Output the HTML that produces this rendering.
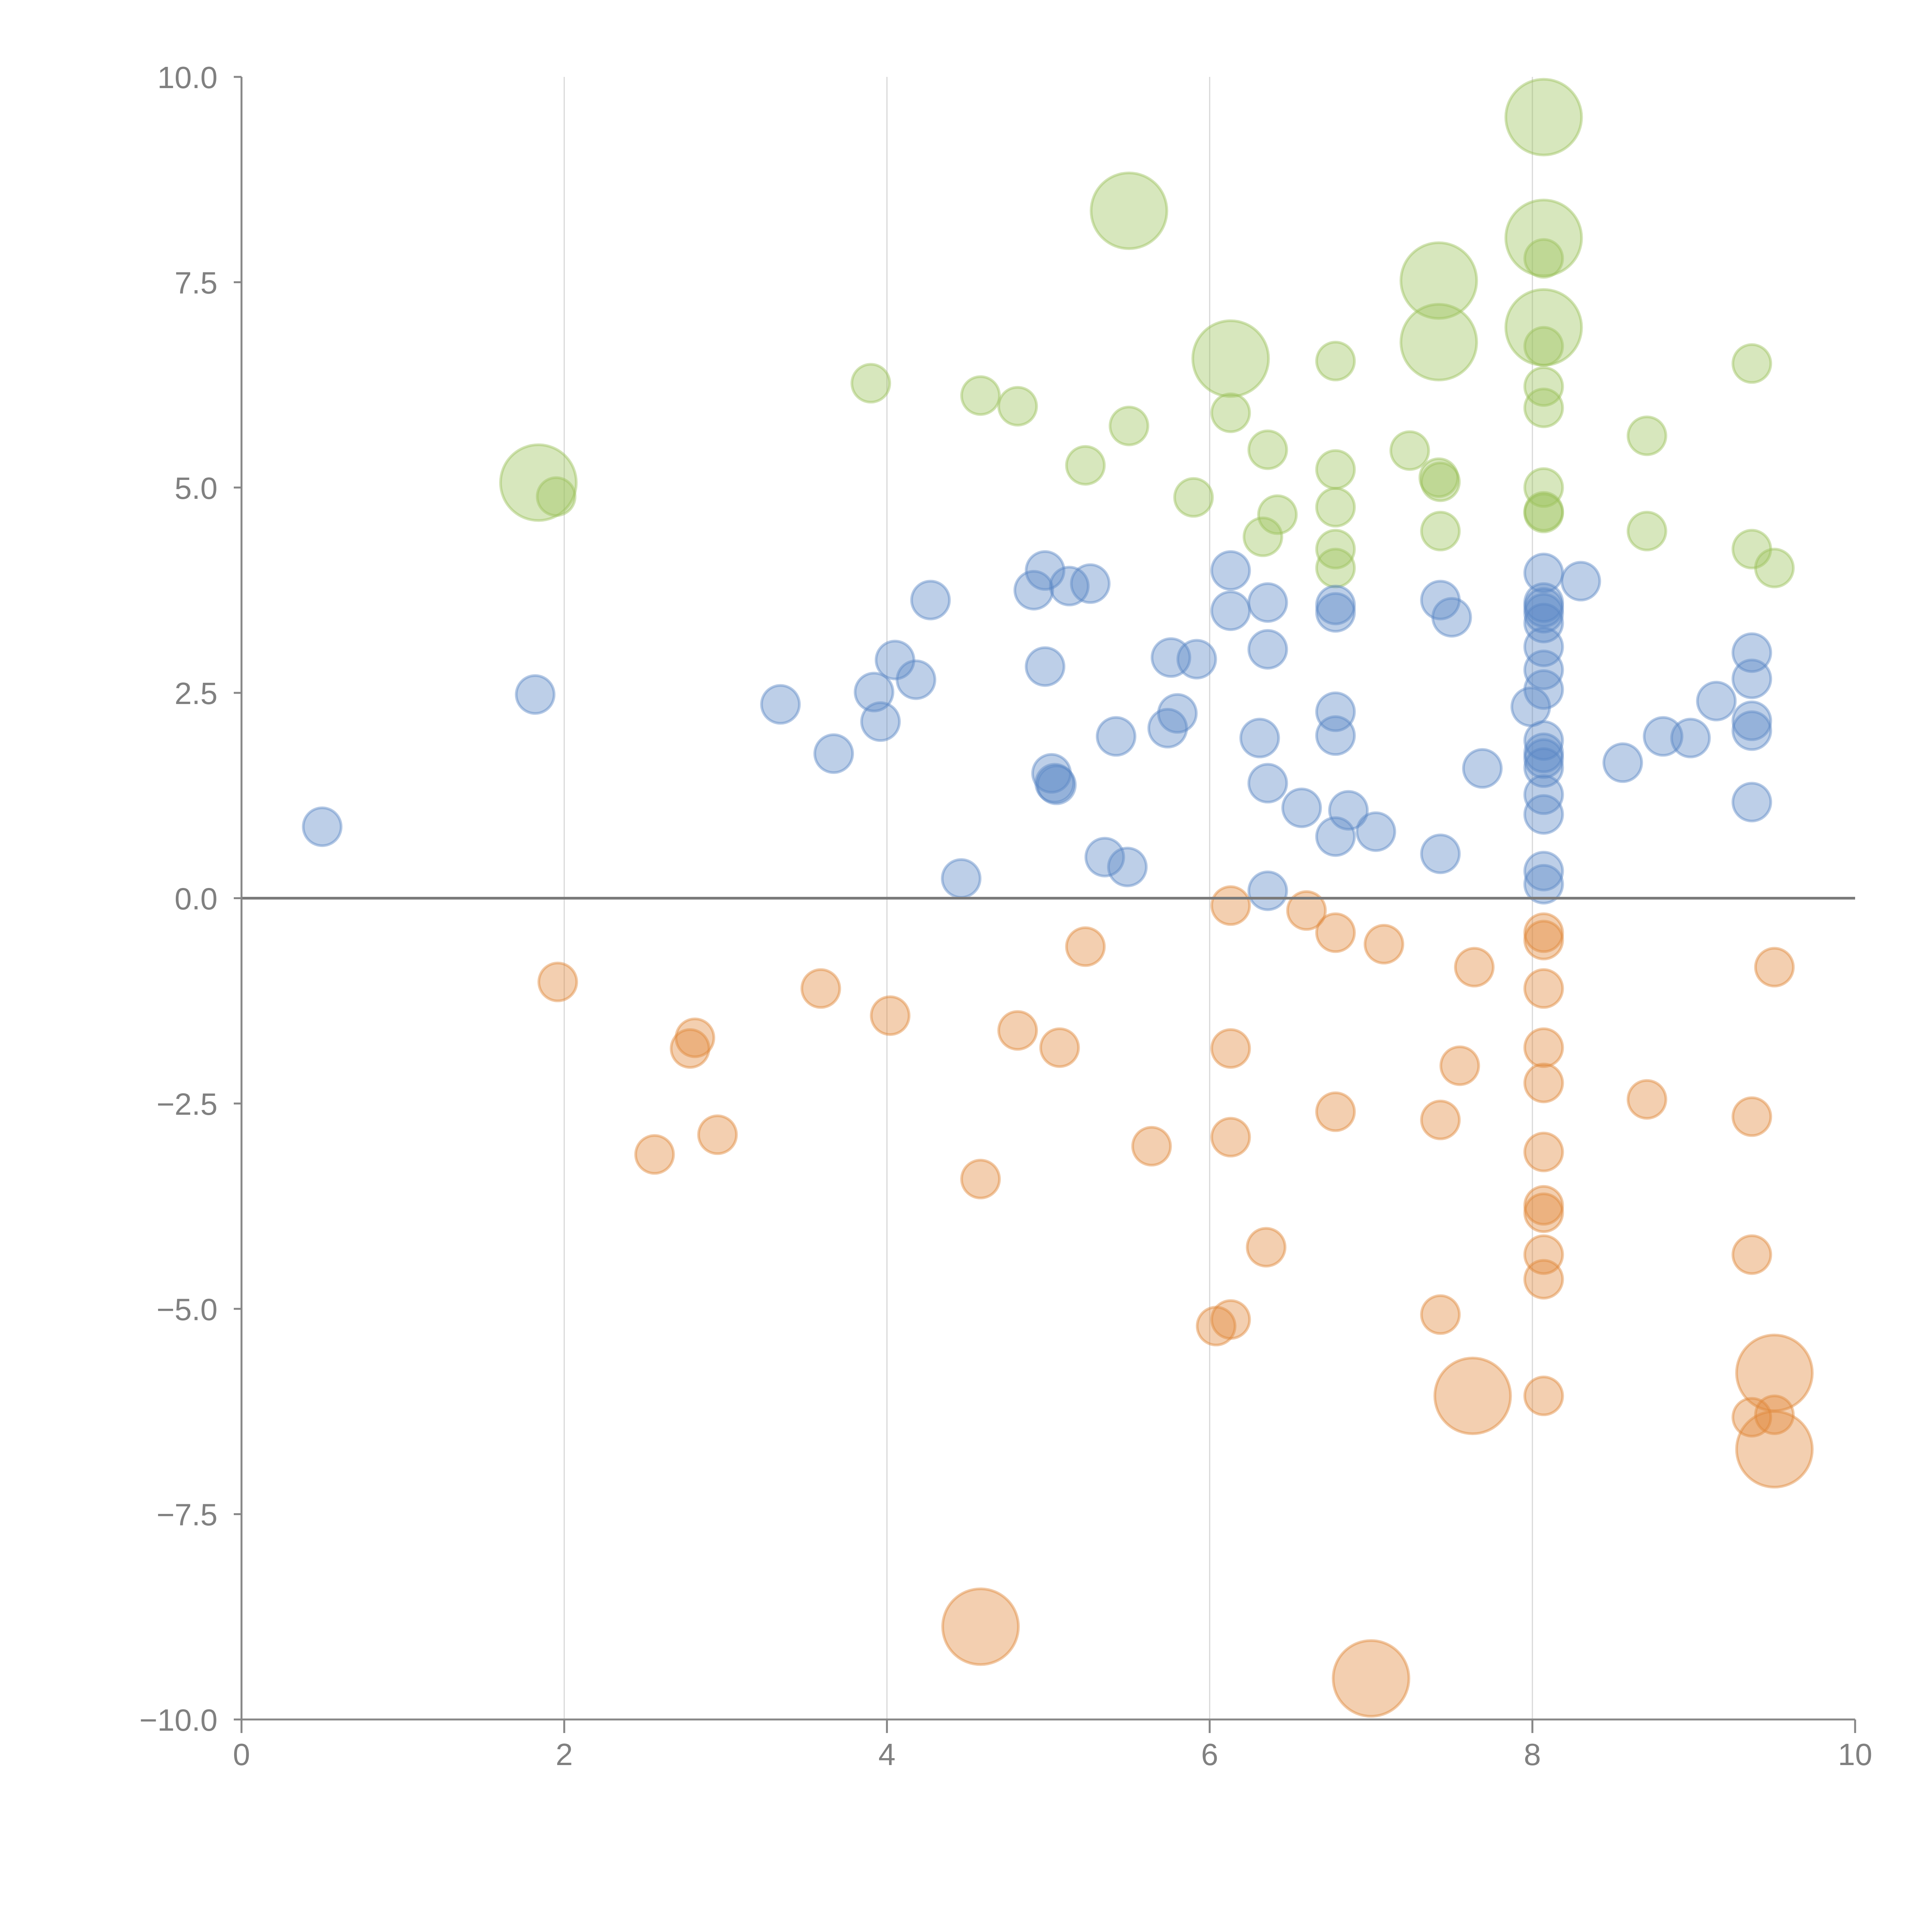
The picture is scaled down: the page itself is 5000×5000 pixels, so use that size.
<!DOCTYPE html>
<html><head><meta charset="utf-8"><style>
html,body{margin:0;padding:0;background:#fff;}
svg{display:block;}
text{font-family:"Liberation Sans",sans-serif;fill:#808080;}
</style></head><body>
<svg id="chart" width="5000" height="5000" viewBox="0 0 5000 5000" xmlns="http://www.w3.org/2000/svg">
<g id="grid"></g>
<g id="bubbles"></g>
<g id="axes"></g>
</svg>
<script>
const xTicks = [0, 2, 4, 6, 8, 10];
const yTicks = [-10, -7.5, -5, -2.5, 0, 2.5, 5, 7.5, 10];
const yTickLabels = ["\u221210.0", "\u22127.5", "\u22125.0", "\u22122.5", "0.0", "2.5", "5.0", "7.5", "10.0"];

const greenX = [8.07,5.50,8.07,8.07,7.42,8.07,7.42,6.13,6.78,8.07,9.36,3.90,4.58,4.81,8.07,8.07,6.13,5.50,8.71,6.36,7.24,5.23,6.78,7.42,7.43,1.84,1.95,8.07,5.90,6.78,8.07,8.07,6.42,6.33,7.43,8.71,6.78,9.36,6.78,9.50];
const greenY = [9.51,8.37,8.04,7.79,7.52,6.95,6.77,6.57,6.54,6.72,6.51,6.27,6.12,5.99,6.23,5.97,5.91,5.75,5.63,5.46,5.45,5.27,5.22,5.12,5.07,5.06,4.89,5.00,4.88,4.76,4.71,4.69,4.67,4.40,4.47,4.47,4.25,4.25,4.02,4.02];
const greenS = [4,4,4,1,4,4,4,4,1,1,1,1,1,1,1,1,1,1,1,1,1,1,1,1,1,4,1,1,1,1,1,1,1,1,1,1,1,1,1,1];

const blueX = [0.50,1.82,3.34,3.67,3.92,3.96,4.05,4.18,4.27,4.46,4.91,4.98,4.98,5.02,5.05,5.04,5.13,5.26,5.35,5.42,5.49,5.74,5.76,5.80,5.92,6.13,6.13,6.31,6.36,6.36,6.36,6.36,6.57,6.78,6.78,6.78,6.78,6.78,6.86,7.03,7.43,7.50,7.43,7.69,7.99,8.07,8.07,8.07,8.07,8.07,8.07,8.07,8.07,8.07,8.07,8.07,8.07,8.07,8.07,8.07,8.07,8.30,8.56,8.81,8.98,9.14,9.36,9.36,9.36,9.36,9.36];
const blueY = [0.87,2.48,2.36,1.76,2.51,2.15,2.90,2.66,3.63,0.24,3.75,3.99,2.82,1.52,1.38,1.40,3.80,3.83,0.50,1.97,0.38,2.07,2.93,2.25,2.91,3.99,3.50,1.95,3.60,3.03,1.40,0.09,1.10,3.57,3.48,2.27,1.98,0.75,1.07,0.81,3.63,3.42,0.54,1.58,2.33,3.96,3.60,3.54,3.47,3.35,3.06,2.78,2.54,1.92,1.77,1.70,1.59,1.26,1.02,0.33,0.17,3.86,1.65,1.97,1.95,2.40,2.99,2.67,2.16,2.04,1.17];

const orangeX = [1.96,2.56,2.81,2.78,2.95,3.59,4.02,4.58,4.58,4.81,5.07,5.23,5.64,6.04,6.13,6.13,6.13,6.13,6.35,6.60,6.78,6.78,7.00,7.08,7.43,7.43,7.55,7.64,7.63,8.07,8.07,8.07,8.07,8.07,8.07,8.07,8.07,8.07,8.07,8.07,8.71,9.36,9.36,9.36,9.50,9.50,9.50,9.50];
const orangeY = [-1.02,-3.12,-1.70,-1.83,-2.88,-1.10,-1.43,-3.42,-8.87,-1.61,-1.82,-0.59,-3.02,-5.21,-0.09,-1.83,-2.91,-5.13,-4.25,-0.15,-0.42,-2.60,-9.50,-0.56,-2.70,-5.07,-2.04,-0.84,-6.06,-0.42,-0.51,-1.10,-1.82,-2.25,-3.09,-3.74,-3.83,-4.34,-4.64,-6.06,-2.45,-2.66,-4.34,-6.32,-0.84,-5.78,-6.29,-6.71];
const orangeS = [1,1,1,1,1,1,1,1,4,1,1,1,1,1,1,1,1,1,1,1,1,1,4,1,1,1,1,1,4,1,1,1,1,1,1,1,1,1,1,1,1,1,1,1,1,4,1,4];

const X0 = 625, X1 = 4801, YT = 199, YB = 4450;
function sx(v){ return X0 + (v - 0) / 10 * (X1 - X0); }
function sy(v){ return YB - (v + 10) / 20 * (YB - YT); }
function rs(s){ return 49 * Math.sqrt(s); }
const NS = "http://www.w3.org/2000/svg";
function mk(tag, attrs, parent){
  const e = document.createElementNS(NS, tag);
  for (const k in attrs) e.setAttribute(k, attrs[k]);
  parent.appendChild(e); return e;
}
const grid = document.getElementById('grid');
const bub = document.getElementById('bubbles');
const axes = document.getElementById('axes');

xTicks.forEach(t => {
  if (t === 0 || t === 10) return;
  const l = mk('line', {x1: sx(t), x2: sx(t), y1: YT, y2: YB, stroke: '#d8d8d8', 'stroke-width': 3}, grid);
  
  
});

function drawSeries(xs, ys, ss, color, name){
  xs.forEach((x, i) => {
    const s = ss ? ss[i] : 1;
    const c = mk('circle', {cx: sx(x), cy: sy(ys[i]), r: rs(s), fill: color, 'fill-opacity': 0.4, stroke: color, 'stroke-opacity': 0.45, 'stroke-width': 7}, bub);
    
    
  });
}
drawSeries(greenX, greenY, greenS, '#9cc25a', 'green-bubble');
drawSeries(blueX, blueY, null, '#5b87c6', 'blue-bubble');
drawSeries(orangeX, orangeY, orangeS, '#e0883a', 'orange-bubble');

const zl = mk('line', {x1: X0, x2: X1, y1: sy(0), y2: sy(0), stroke: '#7a7a7a', 'stroke-width': 7}, axes);


const ya = mk('line', {x1: X0, x2: X0, y1: YT, y2: YB, stroke: '#878787', 'stroke-width': 5}, axes);


const xa = mk('line', {x1: X0, x2: X1, y1: YB, y2: YB, stroke: '#878787', 'stroke-width': 5}, axes);



yTicks.forEach((t, i) => {
  const tk = mk('line', {x1: X0 - 20, x2: X0, y1: sy(t), y2: sy(t), stroke: '#878787', 'stroke-width': 5}, axes);
  
  
  const tx = mk('text', {x: X0 - 62, y: sy(t) + 29, 'text-anchor': 'end', 'font-size': 80}, axes);
  tx.textContent = yTickLabels[i];
  
  
});
xTicks.forEach(t => {
  const tk = mk('line', {x1: sx(t), x2: sx(t), y1: YB, y2: YB + 35, stroke: '#878787', 'stroke-width': 5}, axes);
  
  
  const tx = mk('text', {x: sx(t), y: YB + 118, 'text-anchor': 'middle', 'font-size': 80}, axes);
  tx.textContent = String(t);
  
  
});
</script>
</body></html>
